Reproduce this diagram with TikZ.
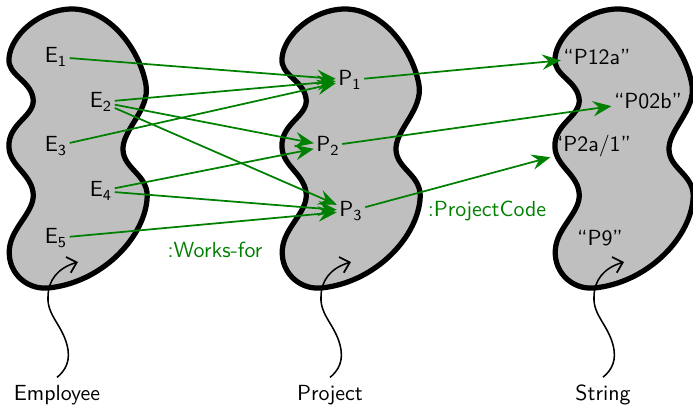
\documentclass[tikz,border=0pt]{standalone}
\usetikzlibrary{arrows.meta}
\definecolor{relgreen}{RGB}{0,128,0}
\tikzset{
  blob/.style={draw=black, line width=2.4pt, fill=black!25, line join=round},
  elem/.style={inner sep=1pt},
  rel/.style={draw=relgreen, thick, -{Stealth[length=8.5pt,width=7pt,inset=3pt]}},
  pointer/.style={line width=0.7pt, -{Straight Barb[length=4pt,width=7.5pt,line width=0.8pt]}},
  rellabel/.style={text=relgreen}
}
\begin{document}
\begin{tikzpicture}[x=0.457pt,y=-0.457pt,font=\sffamily]
\useasboundingbox (0,0) rectangle (693,406);
% the three sets, each with its name below
\foreach \dx/\nm in {0/Employee,273/Project,546/String}{
  \begin{scope}[shift={(\dx,0)}]
  \draw[blob]
       (72,9)
    .. controls (110,9) and (140,50) .. (146,85)
    .. controls (150,110) and (122,130) .. (123,150)
    .. controls (124,170) and (150,175) .. (147,200)
    .. controls (143,240) and (100,283) .. (48,288)
    .. controls (25,290) and (5,270) .. (10,245)
    .. controls (14,225) and (36,210) .. (33,192)
    .. controls (30,172) and (7,165) .. (9,143)
    .. controls (11,122) and (36,115) .. (33,98)
    .. controls (30,80) and (7,75) .. (9,58)
    .. controls (11,35) and (40,9) .. (72,9)
    -- cycle;
  \node (\nm) at (57,395) {\nm};
  \draw[pointer]
       (\nm.north)
    .. controls (66,370) and (71,360) .. (67,345)
    .. controls (62,325) and (47,315) .. (48,297)
    .. controls (48,280) and (58,268) .. (78,262);
  \end{scope}
}
% elements
\node[elem] (e1) at (56,57)  {E\textsubscript{1}};
\node[elem] (e2) at (101,102) {E\textsubscript{2}};
\node[elem] (e3) at (56,146) {E\textsubscript{3}};
\node[elem] (e4) at (101,191) {E\textsubscript{4}};
\node[elem] (e5) at (56,238) {E\textsubscript{5}};
\node[elem] (p1) at (350,80)  {P\textsubscript{1}};
\node[elem] (p2) at (328,146) {P\textsubscript{2}};
\node[elem] (p3) at (351,211) {P\textsubscript{3}};
\node[elem] (s1) at (597,57)  {“P12a”};
\node[elem] (s2) at (648,101) {“P02b”};
\node[elem] (s3) at (592,146) {“P2a/1”};
\node[elem] (s4) at (600,238) {“P9”};
% relations
\foreach \a/\b in {e1/p1,e2/p1,e2/p2,e2/p3,e3/p1,e4/p2,e4/p3,e5/p3,p1/s1,p2/s2,p3/s3}
  \draw[rel] (\a) -- (\b);
\node[rellabel] (worksfor) at (215,250) {:Works-for};
\node[rellabel] (projcode) at (487,211) {:ProjectCode};
\end{tikzpicture}
\end{document}
